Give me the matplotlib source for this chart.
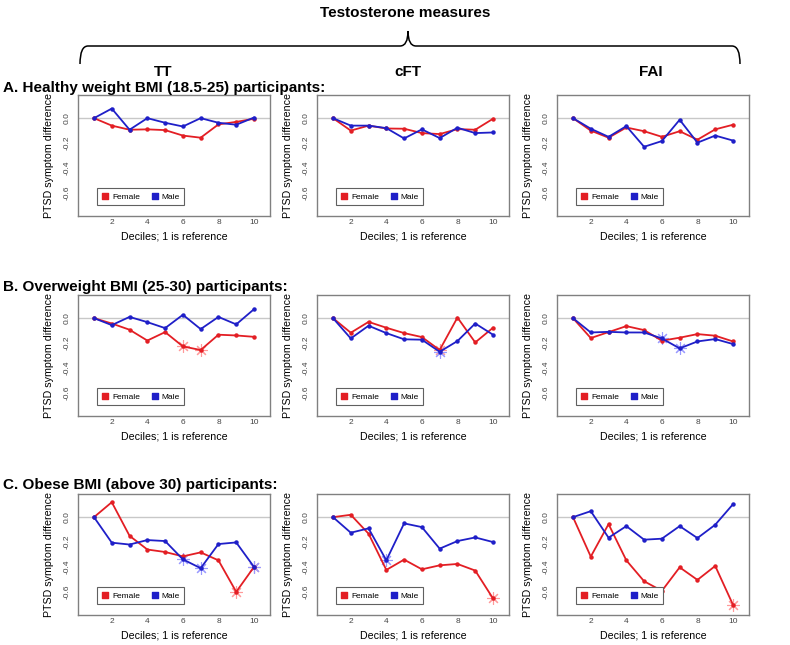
import matplotlib
matplotlib.use("Agg")
import matplotlib.pyplot as plt
import numpy as np
from matplotlib.path import Path
from matplotlib.patches import PathPatch

plt.rcParams["font.family"] = ["Liberation Sans", "DejaVu Sans"]

deciles = np.arange(1, 11)
measures = ["TT", "cFT", "FAI"]
row_titles = [
    "A. Healthy weight BMI (18.5-25) participants:",
    "B. Overweight BMI (25-30) participants:",
    "C. Obese BMI (above 30) participants:",
]

# female / male PTSD symptom difference per decile, [row][col]
female = [
    [
        [0, -0.06, -0.093, -0.09, -0.096, -0.14, -0.157, -0.05, -0.03, -0.005],
        [0, -0.10, -0.06, -0.083, -0.085, -0.12, -0.128, -0.088, -0.093, -0.005],
        [0, -0.10, -0.157, -0.075, -0.105, -0.15, -0.105, -0.173, -0.09, -0.053],
    ],
    [
        [0, -0.043, -0.093, -0.18, -0.112, -0.227, -0.256, -0.133, -0.139, -0.15],
        [0, -0.117, -0.03, -0.077, -0.12, -0.152, -0.256, 0.005, -0.195, -0.077],
        [0, -0.16, -0.112, -0.064, -0.096, -0.181, -0.157, -0.128, -0.141, -0.187],
    ],
    [
        [0, 0.12, -0.15, -0.26, -0.28, -0.315, -0.283, -0.347, -0.60, -0.40],
        [0, 0.019, -0.133, -0.424, -0.341, -0.419, -0.387, -0.376, -0.429, -0.653],
        [0, -0.317, -0.056, -0.347, -0.515, -0.592, -0.403, -0.504, -0.392, -0.704],
    ],
]
male = [
    [
        [0, 0.077, -0.093, 0.0, -0.037, -0.067, 0.0, -0.037, -0.053, 0.005],
        [0, -0.06, -0.06, -0.08, -0.163, -0.09, -0.16, -0.077, -0.12, -0.115],
        [0, -0.085, -0.15, -0.064, -0.23, -0.184, -0.013, -0.197, -0.14, -0.18],
    ],
    [
        [0, -0.056, 0.01, -0.032, -0.08, 0.027, -0.088, 0.01, -0.05, 0.072],
        [0, -0.163, -0.061, -0.12, -0.17, -0.173, -0.27, -0.184, -0.043, -0.133],
        [0, -0.115, -0.11, -0.115, -0.115, -0.163, -0.243, -0.187, -0.168, -0.208],
    ],
    [
        [0, -0.205, -0.22, -0.184, -0.192, -0.339, -0.41, -0.216, -0.203, -0.40],
        [0, -0.125, -0.09, -0.347, -0.05, -0.08, -0.253, -0.192, -0.163, -0.20],
        [0, 0.048, -0.165, -0.072, -0.181, -0.173, -0.072, -0.168, -0.061, 0.104],
    ],
]
# deciles flagged with a star
female_star = [[[], [], []], [[6, 7], [7], []], [[9, 10], [10], [10]]]
male_star = [[[], [], []], [[], [7], [6, 7]], [[6, 7, 10], [4], []]]

RED = "#e31e24"
BLUE = "#1f1fc8"

fig = plt.figure(figsize=(7.9, 6.45), dpi=100)
W, H = 790, 645
col_x = [78, 317, 557]
row_y = [95, 295, 494]
pw, ph = 192, 121

for r in range(3):
    for c in range(3):
        ax = fig.add_axes([col_x[c] / W, 1 - (row_y[r] + ph) / H, pw / W, ph / H])
        ax.axhline(0, color="#c8c8c8", lw=1, zorder=1)
        f = np.array(female[r][c])
        m = np.array(male[r][c])
        ax.plot(deciles, f, color=RED, lw=1.3, marker="o", ms=2.2, zorder=3)
        ax.plot(deciles, m, color=BLUE, lw=1.3, marker="o", ms=2.2, zorder=3)
        for d in female_star[r][c]:
            ax.plot(d, f[d - 1], marker=(8, 2, 0), ms=9, color="#ff9a9a", mew=0.8, zorder=2)
        for d in male_star[r][c]:
            ax.plot(d, m[d - 1], marker=(8, 2, 0), ms=9, color="#9a9aff", mew=0.8, zorder=2)
        ax.set_xlim(0.1, 10.9)
        ax.set_ylim(-0.786, 0.186)
        ax.set_xticks([2, 4, 6, 8, 10])
        ax.set_yticks([0.0, -0.2, -0.4, -0.6])
        ax.set_yticklabels(["0.0", "-0.2", "-0.4", "-0.6"], rotation=90, va="center")
        ax.tick_params(length=0, labelsize=6, labelcolor="#444444")
        ax.tick_params(axis="x", pad=2)
        ax.tick_params(axis="y", pad=5)
        for s in ax.spines.values():
            s.set_color("#808080")
            s.set_linewidth(1)
        ax.set_xlabel("Deciles; 1 is reference", fontsize=7.7, labelpad=4)
        ax.set_ylabel("PTSD symptom difference", fontsize=7.7, labelpad=7)
        h1 = ax.scatter([], [], marker="s", s=18, color=RED)
        h2 = ax.scatter([], [], marker="s", s=18, color=BLUE)
        leg = ax.legend([h1, h2], ["Female", "Male"], ncol=2, loc="lower left",
                        bbox_to_anchor=(0.075, 0.055), fontsize=6, fancybox=False,
                        edgecolor="#606060", handletextpad=0.3, columnspacing=1.3,
                        borderpad=0.55, handlelength=1.0, framealpha=1)
        leg.get_frame().set_linewidth(0.8)

# header and brace
fig.text(405 / W, 1 - 13 / H, "Testosterone measures", ha="center", va="center",
         fontsize=11, fontweight="bold")
x0, x1, xm = 80 / W, 740 / W, 408 / W
yb = 1 - 46 / H
ye = 1 - 64 / H
yt = 1 - 31 / H
dx = 8 / W
verts = [
    (x0, ye), (x0, yb), (x0 + dx, yb),
    (xm - dx, yb), (xm, yb), (xm, yt),
    (xm, yb), (xm + dx, yb),
    (x1 - dx, yb), (x1, yb), (x1, ye),
]
codes = [Path.MOVETO, Path.CURVE3, Path.CURVE3,
         Path.LINETO, Path.CURVE3, Path.CURVE3,
         Path.CURVE3, Path.CURVE3,
         Path.LINETO, Path.CURVE3, Path.CURVE3]
fig.add_artist(PathPatch(Path(verts, codes), fill=False, lw=1.1, color="black",
                         transform=fig.transFigure))
for lab, xc in zip(measures, [163, 408, 651]):
    fig.text(xc / W, 1 - 72 / H, lab, ha="center", va="center", fontsize=11,
             fontweight="bold")
for lab, yc in zip(row_titles, [88, 287, 485]):
    fig.text(3 / W, 1 - yc / H, lab, ha="left", va="center", fontsize=11,
             fontweight="bold")

fig.savefig("out.png", dpi=100)
